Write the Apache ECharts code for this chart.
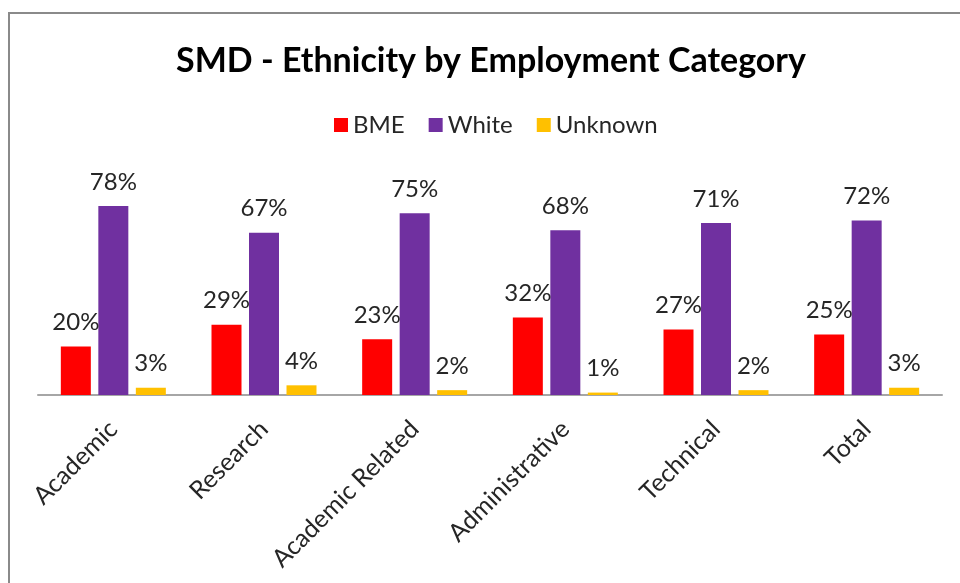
<!DOCTYPE html>
<html>
<head>
<meta charset="utf-8">
<script src="https://cdn.jsdelivr.net/npm/echarts@6/dist/echarts.min.js"></script>
<style>
  html, body { margin: 0; padding: 0; background: #fff; }
  #chart { width: 960px; height: 583px; }
</style>
</head>
<body>
<div id="chart"></div>
<script>
// Staff ethnicity share (%) per employment category
const categories = ['Academic', 'Research', 'Academic Related', 'Administrative', 'Technical', 'Total'];
const bme = [20, 29, 23, 32, 27, 25];
const white = [78, 67, 75, 68, 71, 72];
const unknown = [3, 4, 2, 1, 2, 3];

const FONT = 'Lato, "Open Sans", sans-serif';
const TEXT = '#262626';

const label = {
  show: true,
  position: 'top',
  distance: 12,
  formatter: '{c}%',
  fontFamily: FONT,
  fontSize: 24,
  color: TEXT
};

function bar(name, data, color) {
  return {
    name: name,
    type: 'bar',
    data: data,
    barWidth: 30,
    barGap: '25%',
    itemStyle: { color: color },
    label: label,
    emphasis: { disabled: true }
  };
}

const chart = echarts.init(document.getElementById('chart'), null, { renderer: 'canvas' });
chart.setOption({
  animation: false,
  backgroundColor: '#fff',
  title: {
    text: 'SMD - Ethnicity by Employment Category',
    left: 486,
    top: 39,
    textAlign: 'center',
    textStyle: { fontFamily: FONT, fontSize: 34, fontWeight: 'bold', color: '#000' }
  },
  legend: {
    top: 108,
    left: 329,
    itemWidth: 14,
    itemHeight: 14,
    itemGap: 24,
    icon: 'rect',
    textStyle: { fontFamily: FONT, fontSize: 24, color: TEXT },
    data: ['BME', 'White', 'Unknown']
  },
  grid: { left: 38, right: 18, top: 177, bottom: 188, containLabel: false },
  xAxis: {
    type: 'category',
    data: categories,
    axisLine: { lineStyle: { color: '#a6a6a6', width: 2 } },
    axisTick: { show: false },
    axisLabel: {
      rotate: 45,
      interval: 0,
      margin: 30,
      fontFamily: FONT,
      fontSize: 25,
      color: TEXT
    }
  },
  yAxis: {
    type: 'value',
    min: 0,
    max: 90,
    show: false,
    splitLine: { show: false }
  },
  graphic: [{
    type: 'rect',
    shape: { x: 9, y: 13, width: 1000, height: 1000 },
    style: { fill: 'none', stroke: '#8a8a8a', lineWidth: 2 },
    silent: true
  }],
  series: [
    bar('BME', bme, '#ff0000'),
    bar('White', white, '#7030a0'),
    bar('Unknown', unknown, '#ffc000')
  ]
});
</script>
</body>
</html>
